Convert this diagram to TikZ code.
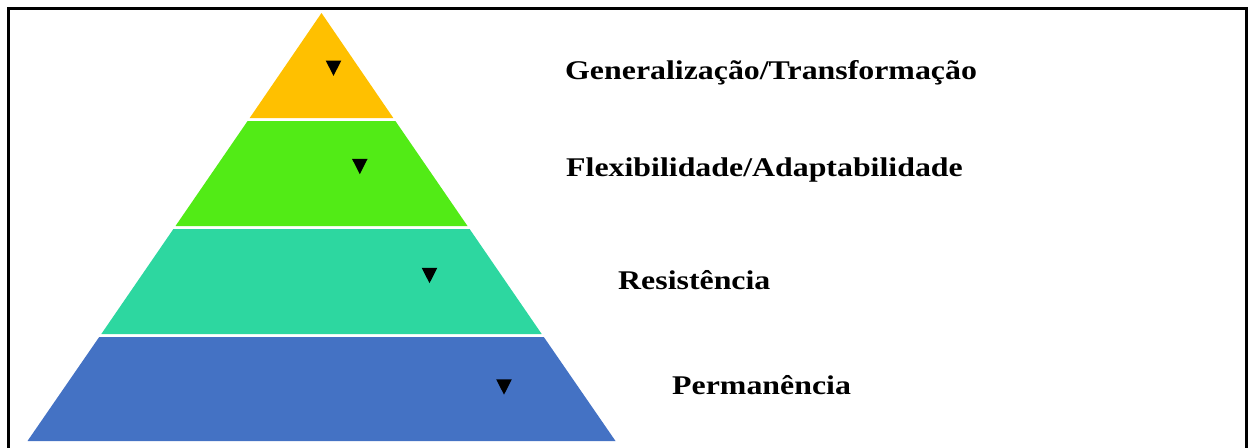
\documentclass[tikz,border=0pt]{standalone}
\usepackage{fontspec}
\usepackage{graphicx}
\setmainfont{Liberation Serif}
\definecolor{cTop}{HTML}{FFC000}
\definecolor{cFlex}{HTML}{52EB16}
\definecolor{cRes}{HTML}{2DD7A0}
\definecolor{cPerm}{HTML}{4472C4}
\newcommand{\widelbl}[1]{\scalebox{1.18}[1]{#1}}
\tikzset{
  band/.style={draw=none},
  lbl/.style={anchor=base west, inner sep=0pt, font=\fontsize{27}{32}\selectfont\bfseries},
  marker/.pic={\fill[black] (-7.8,-7.7) -- (7.8,-7.7) -- (0,7.7) -- cycle;}
}
\begin{document}
\begin{tikzpicture}[x=1pt,y=-1pt]
\useasboundingbox (0,0) rectangle (1249,447);
% frame (bottom edge lies outside the picture)
\draw[line width=2.6pt] (8.3,470) -- (8.3,8.3) -- (1246.7,8.3) -- (1246.7,470);
% pyramid bands
\fill[cTop,band]  (321.5,13) -- (393.3,118) -- (249.7,118) -- cycle;
\fill[cFlex,band] (247.6,121) -- (395.4,121) -- (467.5,226) -- (175.5,226) -- cycle;
\fill[cRes,band]  (173.4,229) -- (469.6,229) -- (541.7,334) -- (101.3,334) -- cycle;
\fill[cPerm,band] (99.2,337) -- (543.8,337) -- (615.5,441) -- (27.5,441) -- cycle;
% markers
\pic at (333.5,68.2) {marker};
\pic at (359.8,166.5) {marker};
\pic at (429.5,275.5) {marker};
\pic at (504,387) {marker};
% labels
\node[lbl] (t1) at (565,79.3) {\widelbl{Generalização/Transformação}};
\node[lbl] (t2) at (566,176.7) {\widelbl{Flexibilidade/Adaptabilidade}};
\node[lbl] (t3) at (618,289) {\widelbl{Resistência}};
\node[lbl] (t4) at (672,394) {\widelbl{Permanência}};
\end{tikzpicture}
\end{document}
